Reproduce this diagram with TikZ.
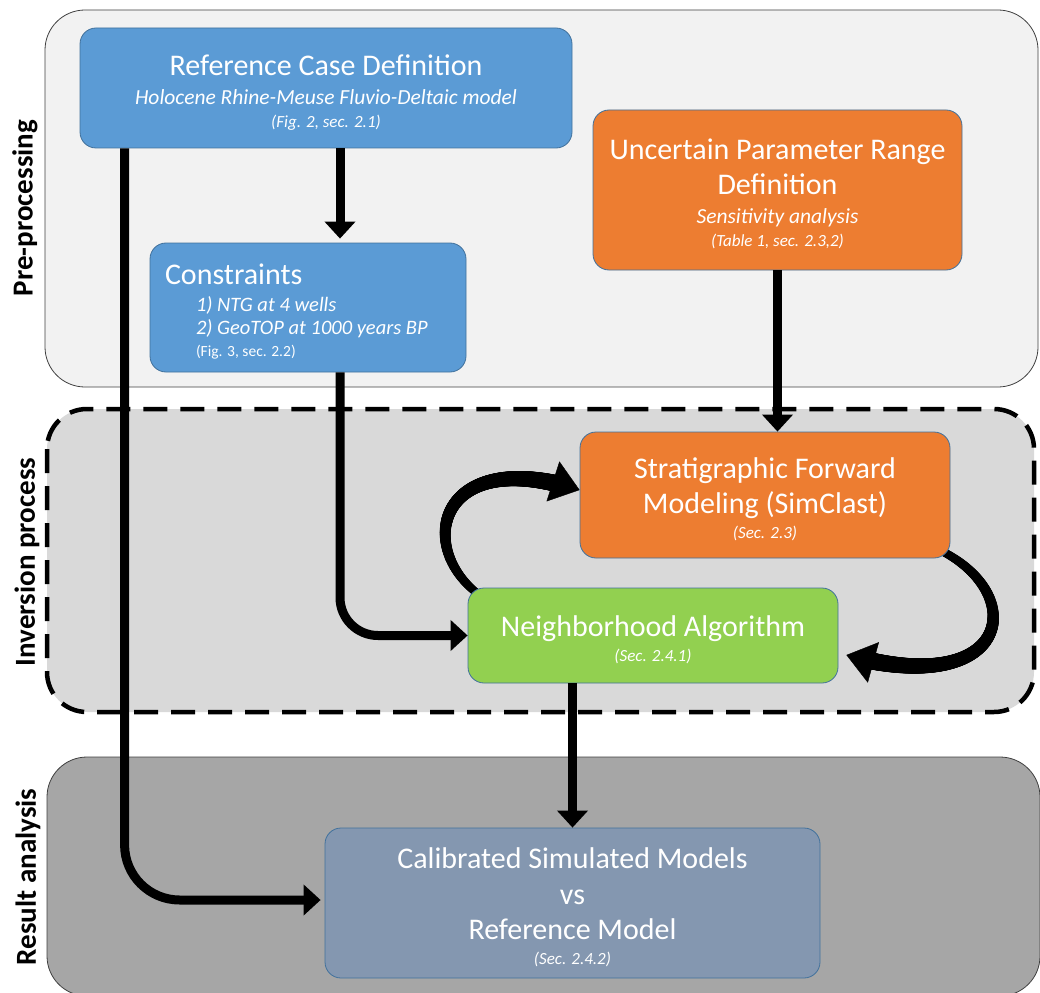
\documentclass[tikz,border=0pt]{standalone}
\usepackage{fontspec}
\setmainfont{Carlito}
\usetikzlibrary{arrows.meta, decorations.markings}

\definecolor{boxblue}{HTML}{5B9BD5}
\definecolor{boxorange}{HTML}{ED7D31}
\definecolor{boxgreen}{HTML}{92D050}
\definecolor{boxslate}{HTML}{8497B0}
\definecolor{boxline}{HTML}{41719C}
\definecolor{pregray}{HTML}{F2F2F2}
\definecolor{invgray}{HTML}{D9D9D9}
\definecolor{resgray}{HTML}{A6A6A6}
\definecolor{panelline}{HTML}{404040}

\newcommand{\boxtitle}{\fontsize{30}{35}\selectfont}
\newcommand{\boxsub}{\fontsize{21.5}{25}\selectfont\itshape}
\newcommand{\boxref}{\fontsize{17}{20}\selectfont}
\newcommand{\topgap}{\rule{0pt}{29pt}}

\pgfdeclarelayer{panels}
\pgfdeclarelayer{loops}
\pgfsetlayers{panels,loops,main}

\begin{document}
\begin{tikzpicture}[x=1pt, y=-1pt,
box/.style={draw=boxline, line width=0.8pt, rounded corners=16pt, text=white,
  align=center, inner sep=0pt, font=\boxtitle},
flow/.style={line width=9pt, -{Triangle[length=17pt, width=30pt]}},
loop/.style={decorate, decoration={markings,
  mark=between positions 0 and -20pt step 0.6pt with {%
    \pgfmathsetmacro\rr{4+5*\pgfkeysvalueof{/pgf/decoration/mark info/distance from start}/\pgfdecoratedpathlength}%
    \fill (0,0) circle[radius=\rr pt];}}},
loophead/.style={line width=0.4pt, -{Triangle[length=28pt, width=42pt]}},
panel/.style={rounded corners=40pt},
side/.style={rotate=90, font=\fontsize{29}{34}\selectfont\bfseries},
]
\useasboundingbox (0,0) rectangle (1040,992);

% stage panels
\begin{pgfonlayer}{panels}
\path[panel, fill=pregray, draw=panelline, line width=0.8pt] (45,10) rectangle (1038,387);
\path[panel, fill=invgray, draw=black, line width=4.5pt, dash pattern=on 24pt off 13pt]
  (47,409) rectangle (1034,712);
\path[panel, fill=resgray, draw=panelline, line width=0.8pt] (47,757) rectangle (1040,996);
\end{pgfonlayer}

\node[side] (lpre) at (25,208) {Pre-processing};
\node[side] (linv) at (27,562) {Inversion process};
\node[side] (lres) at (28,877) {Result analysis};

% workflow boxes
\node[box, fill=boxblue, minimum width=492pt, minimum height=120pt] (rcd) at (326,88)
  {\topgap Reference Case Definition\\[-6pt] {\boxsub Holocene Rhine-Meuse Fluvio-Deltaic model}\\[-12pt]
   {\boxref\itshape (Fig. 2, sec. 2.1)}};
\node[box, fill=boxblue, minimum width=316pt, minimum height=129pt, text width=286pt,
  align=flush left] (cons) at (308,307.5)
  {\topgap Constraints\\[-8pt]
   \hspace*{31pt}{\boxsub\fontsize{20.5}{25}\selectfont 1) NTG at 4 wells}\\[-12pt]
   \hspace*{31pt}{\boxsub\fontsize{20.5}{25}\selectfont 2) GeoTOP at 1000 years BP}\\[-13pt]
   \hspace*{31pt}{\boxref\fontsize{15.5}{18}\selectfont (Fig. 3, sec. 2.2)}};
\node[box, fill=boxorange, minimum width=369pt, minimum height=160pt] (upr) at (777.5,190)
  {\topgap Uncertain Parameter Range\\ Definition\\[-6pt] {\boxsub Sensitivity analysis}\\[-12pt]
   {\boxref\itshape (Table 1, sec. 2.3,2)}};
\node[box, fill=boxorange, minimum width=370pt, minimum height=126pt] (sfm) at (765,495)
  {\topgap Stratigraphic Forward\\ Modeling (SimClast)\\[-10pt] {\boxref\itshape (Sec. 2.3)}};
\node[box, fill=boxgreen, minimum width=370pt, minimum height=95pt] (nba) at (653,635.5)
  {\topgap Neighborhood Algorithm\\[-10pt] {\boxref\itshape (Sec. 2.4.1)}};
\node[box, fill=boxslate, minimum width=495pt, minimum height=150pt] (cal) at (572.5,903)
  {\topgap Calibrated Simulated Models\\[1pt] vs\\ Reference Model\\[-10pt] {\boxref\itshape (Sec. 2.4.2)}};

% connections
\draw[flow] ([xshift=32pt]cons.north |- rcd.south) -- ([xshift=32pt,yshift=4pt]cons.north);
\draw[flow, rounded corners=38pt] ([xshift=32pt]cons.south) |- (nba.west);
\draw[flow, rounded corners=55pt] ([xshift=45pt]rcd.south west) |- ([xshift=-4pt,yshift=3pt]cal.west);
\draw[flow] (upr.south) -- (upr.south |- sfm.north);
\draw[flow] (nba.south -| cal.north) -- (cal.north);

% iteration loop
\begin{pgfonlayer}{loops}
\path[loop] ([xshift=10pt,yshift=-6pt]nba.north west) .. controls (415,545) and (440,445)
  .. (sfm.west |- 0,490);
\draw[loophead] ([xshift=10pt,yshift=-6pt]nba.north west) .. controls (415,545) and (440,445)
  .. (sfm.west |- 0,490);
\path[loop] ([xshift=-10pt,yshift=8pt]sfm.south east) .. controls (1030,595) and (1010,700)
  .. ([xshift=8pt]nba.east |- 0,655);
\draw[loophead] ([xshift=-10pt,yshift=8pt]sfm.south east) .. controls (1030,595) and (1010,700)
  .. ([xshift=8pt]nba.east |- 0,655);
\end{pgfonlayer}

\end{tikzpicture}
\end{document}
